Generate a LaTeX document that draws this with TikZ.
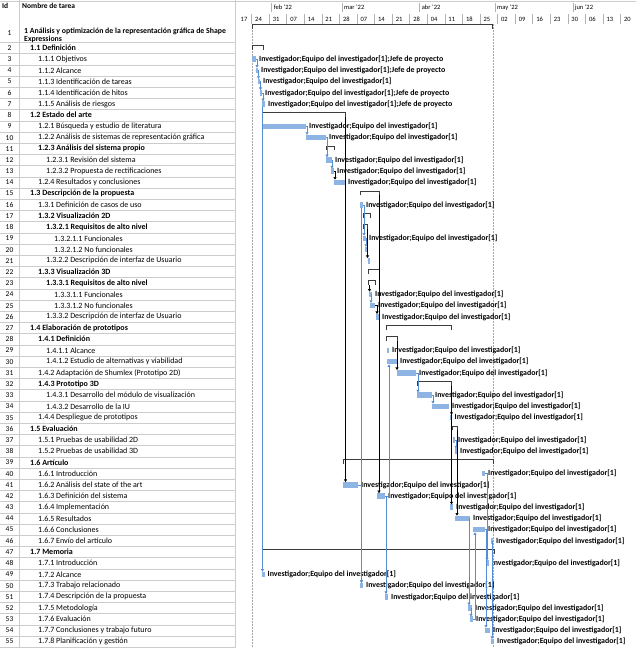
\documentclass[tikz,border=0pt]{standalone}
\usepackage{fontspec}
\setmainfont{Carlito}
\usetikzlibrary{positioning,arrows.meta}
\definecolor{barblue}{RGB}{141,180,226}
\definecolor{linkblue}{RGB}{84,141,212}
\definecolor{sumgray}{RGB}{60,60,60}
% row centre (y grows downwards)
\newcommand{\ry}[1]{48+(#1-2)*11.2}
% task bar: name, row, start, end
\newcommand{\gbar}[4]{\node[taskbar, minimum width={(#4)-(#3)}] (#1) at ({#3},{\ry{#2}}) {};}
% summary bracket: name, row, start, end
\newcommand{\gsum}[4]{%
  \node[sumnode, minimum width={(#4)-(#3)}] (#1) at ({#3},{\ry{#2}-0.5}) {};
  \draw[sumbar] (#1.south west) -- (#1.north west) -- (#1.north east) -- (#1.south east);}
% resource label right of a bar
\newcommand{\gres}[2]{\node[res, right=3pt of #1] (r#1) {#2};}
\newcommand{\ei}{Investigador;Equipo del investigador[1]}
\newcommand{\ej}{Investigador;Equipo del investigador[1];Jefe de proyecto}

\begin{document}
\begin{tikzpicture}[
  x=1pt, y=-1pt,
  >={Triangle[length=2.6pt,width=3pt]},
  font=\fontsize{8}{9}\selectfont,
  tname/.style   ={anchor=west, inner sep=0pt},
  tid/.style     ={inner sep=0pt, font=\fontsize{7.5}{8}\selectfont},
  hdr/.style     ={anchor=west, inner sep=0pt, font=\bfseries\fontsize{7.5}{8}\selectfont},
  mlab/.style    ={anchor=west, inner sep=0pt, font=\fontsize{6.5}{7}\selectfont},
  wlab/.style    ={inner sep=0pt, font=\fontsize{6.5}{7}\selectfont},
  taskbar/.style ={fill=barblue, anchor=west, minimum height=5.5pt, inner sep=0pt, outer sep=0pt},
  sumnode/.style ={anchor=west, minimum height=4pt, inner sep=0pt, outer sep=0pt},
  sumbar/.style  ={draw=sumgray, line width=0.9pt},
  res/.style     ={inner sep=0pt, font=\bfseries\fontsize{7.9}{8.5}\selectfont},
  link/.style    ={->, draw=linkblue, line width=0.6pt},
  slink/.style   ={->, draw=black, line width=0.6pt},
  rowline/.style ={draw=gray!40, line width=0.5pt},
  tmark/.style   ={draw=gray!60, line width=0.5pt},
  projline/.style={draw=gray!70, dash pattern=on 1.5pt off 1.5pt, line width=0.5pt}
]
\useasboundingbox (0,0) rectangle (636,648);
\fill[white] (0,0) rectangle (636,648);

% --- table frame ---
\draw[rowline] (0,1) -- (636,1);
\draw[rowline] (19,0) -- (19,648);
\draw[rowline] (235,0) -- (235,648);
\foreach \k in {0,...,54}
  \draw[rowline] (0,{42.4+\k*11.2}) -- (235,{42.4+\k*11.2});

\node[hdr] (hid)   at (2,6)  {Id};
\node[hdr] (hname) at (22,6) {Nombre de tarea};

% --- task names ---
\node[tid] (id1) at (9.5,33) {1};
\node[tname, align=left, font=\bfseries\fontsize{7.8}{8.2}\selectfont] (n1) at (24,35.5)
  {1 Análisis y optimización de la representación gráfica de Shape\\Expressions};
\foreach \i/\x/\f/\txt in {
  2/30/\bfseries/1.1 Definición,
  3/38/\mdseries/1.1.1 Objetivos,
  4/38/\mdseries/1.1.2 Alcance,
  5/38/\mdseries/1.1.3 Identificación de tareas,
  6/38/\mdseries/1.1.4 Identificación de hitos,
  7/38/\mdseries/1.1.5 Análisis de riesgos,
  8/30/\bfseries/1.2 Estado del arte,
  9/38/\mdseries/1.2.1 Búsqueda y estudio de literatura,
  10/38/\mdseries/1.2.2 Análisis de sistemas de representación gráfica,
  11/38/\bfseries/1.2.3 Análisis del sistema propio,
  12/46/\mdseries/1.2.3.1 Revisión del sistema,
  13/46/\mdseries/1.2.3.2 Propuesta de rectificaciones,
  14/38/\mdseries/1.2.4 Resultados y conclusiones,
  15/30/\bfseries/1.3 Descripción de la propuesta,
  16/38/\mdseries/1.3.1 Definición de casos de uso,
  17/38/\bfseries/1.3.2 Visualización 2D,
  18/46/\bfseries/1.3.2.1 Requisitos de alto nivel,
  19/54/\mdseries/1.3.2.1.1 Funcionales,
  20/54/\mdseries/1.3.2.1.2 No funcionales,
  21/46/\mdseries/1.3.2.2 Descripción de interfaz de Usuario,
  22/38/\bfseries/1.3.3 Visualización 3D,
  23/46/\bfseries/1.3.3.1 Requisitos de alto nivel,
  24/54/\mdseries/1.3.3.1.1 Funcionales,
  25/54/\mdseries/1.3.3.1.2 No funcionales,
  26/46/\mdseries/1.3.3.2 Descripción de interfaz de Usuario,
  27/30/\bfseries/1.4 Elaboración de prototipos,
  28/38/\bfseries/1.4.1 Definición,
  29/46/\mdseries/1.4.1.1 Alcance,
  30/46/\mdseries/1.4.1.2 Estudio de alternativas y viabilidad,
  31/38/\mdseries/1.4.2 Adaptación de Shumlex (Prototipo 2D),
  32/38/\bfseries/1.4.3 Prototipo 3D,
  33/46/\mdseries/1.4.3.1 Desarrollo del módulo de visualización,
  34/46/\mdseries/1.4.3.2 Desarrollo de la IU,
  35/38/\mdseries/1.4.4 Despliegue de prototipos,
  36/30/\bfseries/1.5 Evaluación,
  37/38/\mdseries/1.5.1 Pruebas de usabilidad 2D,
  38/38/\mdseries/1.5.2 Pruebas de usabilidad 3D,
  39/30/\bfseries/1.6 Artículo,
  40/38/\mdseries/1.6.1 Introducción,
  41/38/\mdseries/1.6.2 Análisis del state of the art,
  42/38/\mdseries/1.6.3 Definición del sistema,
  43/38/\mdseries/1.6.4 Implementación,
  44/38/\mdseries/1.6.5 Resultados,
  45/38/\mdseries/1.6.6 Conclusiones,
  46/38/\mdseries/1.6.7 Envío del artículo,
  47/30/\bfseries/1.7 Memoria,
  48/38/\mdseries/1.7.1 Introducción,
  49/38/\mdseries/1.7.2 Alcance,
  50/38/\mdseries/1.7.3 Trabajo relacionado,
  51/38/\mdseries/1.7.4 Descripción de la propuesta,
  52/38/\mdseries/1.7.5 Metodología,
  53/38/\mdseries/1.7.6 Evaluación,
  54/38/\mdseries/1.7.7 Conclusiones y trabajo futuro,
  55/38/\mdseries/1.7.8 Planificación y gestión}
{
  \node[tid]   (id\i) at (9.5,{\ry{\i}}) {\i};
  \node[tname] (n\i)  at (\x,{\ry{\i}})  {\f\txt};
}

% --- timescale ---
\foreach \d/\lab [count=\c] in {8/feb '22, 36/mar '22, 67/abr '22, 97/may '22, 128/jun '22}
{
  \draw[tmark] ({251.5+2.51*\d},3) -- ({251.5+2.51*\d},12);
  \node[mlab] (mon\c) at ({253.5+2.51*\d},7.5) {\lab};
}
\node[wlab] (wk0) at (244,19.5) {17};
\foreach \w/\lab in {0/24,1/31,2/07,3/14,4/21,5/28,6/07,7/14,8/21,9/28,10/04,
                     11/11,12/18,13/25,14/02,15/09,16/16,17/23,18/30,19/06,20/13,21/20}
{
  \draw[tmark] ({251.5+17.57*\w},14) -- ({251.5+17.57*\w},24);
  \node[wlab] (wk\w) at ({258.5+17.57*\w},19.5) {\lab};
}

% --- project start / finish ---
\draw[projline] (252,24) -- (252,648);
\draw[projline] (493,24) -- (493,648);

% --- summary brackets ---
\node[sumnode, minimum width=240.5] (s1) at (252,26.5) {};
\draw[sumbar] (s1.south west) -- (s1.north west) -- (s1.north east) -- (s1.south east);
\gsum{s2}{2}{252}{263}
\gsum{s8}{8}{262}{345.5}
\gsum{s11}{11}{326}{334}
\gsum{s15}{15}{360}{379}
\gsum{s17}{17}{363}{370}
\gsum{s18}{18}{363}{367.5}
\gsum{s22}{22}{368}{379}
\gsum{s23}{23}{368}{375}
\gsum{s27}{27}{386.5}{451.5}
\gsum{s28}{28}{386.5}{397}
\gsum{s32}{32}{417}{451.5}
\gsum{s36}{36}{452.5}{457}
\gsum{s39}{39}{343}{493}
\gsum{s47}{47}{262}{494}

% --- task bars ---
\gbar{t3}{3}{252}{256}
\gbar{t4}{4}{256}{258}
\gbar{t5}{5}{257.5}{260}
\gbar{t6}{6}{259.5}{262}
\gbar{t7}{7}{262}{265}
\gbar{t9}{9}{262}{306}
\gbar{t10}{10}{306}{326}
\gbar{t12}{12}{326}{332}
\gbar{t13}{13}{331}{334}
\gbar{t14}{14}{334}{345}
\gbar{t16}{16}{360}{363}
\gbar{t19}{19}{363}{366}
\gbar{t20}{20}{365}{367.5}
\gbar{t21}{21}{367.5}{370}
\gbar{t24}{24}{369}{372}
\gbar{t25}{25}{370}{375}
\gbar{t26}{26}{376}{379}
\gbar{t29}{29}{386.5}{389}
\gbar{t30}{30}{387}{397}
\gbar{t31}{31}{397}{416}
\gbar{t33}{33}{417}{432}
\gbar{t34}{34}{432}{449}
\gbar{t35}{35}{449.5}{451.5}
\gbar{t37}{37}{452.5}{455}
\gbar{t38}{38}{455}{457}
\gbar{t40}{40}{482}{485}
\gbar{t41}{41}{343}{358}
\gbar{t42}{42}{377}{385}
\gbar{t43}{43}{450}{453}
\gbar{t44}{44}{455}{470}
\gbar{t45}{45}{473}{485}
\gbar{t46}{46}{490.5}{493}
\gbar{t48}{48}{486}{488.5}
\gbar{t49}{49}{262}{264.5}
\gbar{t50}{50}{360}{363}
\gbar{t51}{51}{385}{388}
\gbar{t52}{52}{468}{472}
\gbar{t53}{53}{470}{473}
\gbar{t54}{54}{485}{490}
\gbar{t55}{55}{491}{494}

% --- resource labels ---
\gres{t3}{\ej}  \gres{t4}{\ej}  \gres{t5}{\ei}  \gres{t6}{\ej}  \gres{t7}{\ej}
\gres{t9}{\ei}  \gres{t10}{\ei} \gres{t12}{\ei} \gres{t13}{\ei} \gres{t14}{\ei}
\gres{t16}{\ei} \gres{t19}{\ei} \gres{t24}{\ei} \gres{t25}{\ei} \gres{t26}{\ei}
\gres{t29}{\ei} \gres{t30}{\ei} \gres{t31}{\ei} \gres{t33}{\ei} \gres{t34}{\ei}
\gres{t35}{\ei} \gres{t37}{\ei} \gres{t38}{\ei} \gres{t40}{\ei} \gres{t41}{\ei}
\gres{t42}{\ei} \gres{t43}{\ei} \gres{t44}{\ei} \gres{t45}{\ei} \gres{t46}{\ei}
\gres{t48}{\ei} \gres{t49}{\ei} \gres{t50}{\ei} \gres{t51}{\ei} \gres{t52}{\ei}
\gres{t53}{\ei} \gres{t54}{\ei} \gres{t55}{\ei}

% --- short links ---
\draw[link] (t3.east)  -| ([xshift=1pt]t4.north west);
\draw[link] (t4.east)  -| ([xshift=1pt]t5.north west);
\draw[link] (t5.east)  -| ([xshift=1pt]t6.north west);
\draw[link] (t6.east)  -| ([xshift=1pt]t7.north west);
\draw[link] (t9.east)  -| ([xshift=1pt]t10.north west);
\draw[link] (t10.east) -| ([xshift=1pt]t12.north west);
\draw[link] (t12.east) -| ([xshift=1pt]t13.north west);
\draw[slink] (t13.east) -| ([xshift=1pt]t14.north west);
\draw[link] (t16.east) -| ([xshift=1pt]t19.north west);
\draw[link] (t19.east) -| ([xshift=1pt]t20.north west);
\draw[link] (t24.east) -| ([xshift=1pt]t25.north west);
\draw[slink] (t25.east) -| ([xshift=1pt]t26.north west);
\draw[link] (t31.east) -| ([xshift=1pt]t33.north west);
\draw[link] (t33.east) -| ([xshift=1pt]t34.north west);
\draw[link] (t37.east) -| ([xshift=1pt]t38.north west);
\draw[link] (t44.east) -| ([xshift=1pt]t52.north west);
\draw[link] (t52.east) -| ([xshift=1pt]t53.north west);
\draw[link] (t45.east) -| ([xshift=1pt]t54.north west);
\draw[link] (t40.east) -| ([xshift=1pt]t48.north west);
\draw[link] (t46.east) -| ([xshift=1pt]t55.north west);
\draw[link] (t41.east) -| (t50.north);
\draw[link] (t42.east) -| ([xshift=1pt]t51.north west);
% upward links
\draw[link] (t42.east) -| ([xshift=2pt]t30.south west);
\draw[link] (t53.east) -| ([xshift=2pt]t45.south west);

% --- long links ---
\draw[link] ([xshift=0.5pt]t7.south west) -- ([xshift=0.5pt]t49.north west);
\draw[link] (t16.south) -- (t50.north);
\draw[slink] (s18.south east) -- (s18.south east |- t21.north);
\draw[slink] ([xshift=1.5pt]s23.south west) -- ([xshift=1.5pt]s23.south west |- t24.north);
\draw[slink] (s28.south east) -- (s28.south east |- t31.north);
\draw[slink] (s32.south east) -- (s32.south east |- t35.north);
\draw[slink] (s32.south east) -- (s32.south east |- t43.north);
\draw[slink] (s8.south east)  -- (s8.south east |- t41.north);
\draw[slink] (s15.south east) -- (s15.south east |- t42.north);
\draw[slink] (s36.south east) -- (s36.south east |- t44.north);

\end{tikzpicture}
\end{document}
